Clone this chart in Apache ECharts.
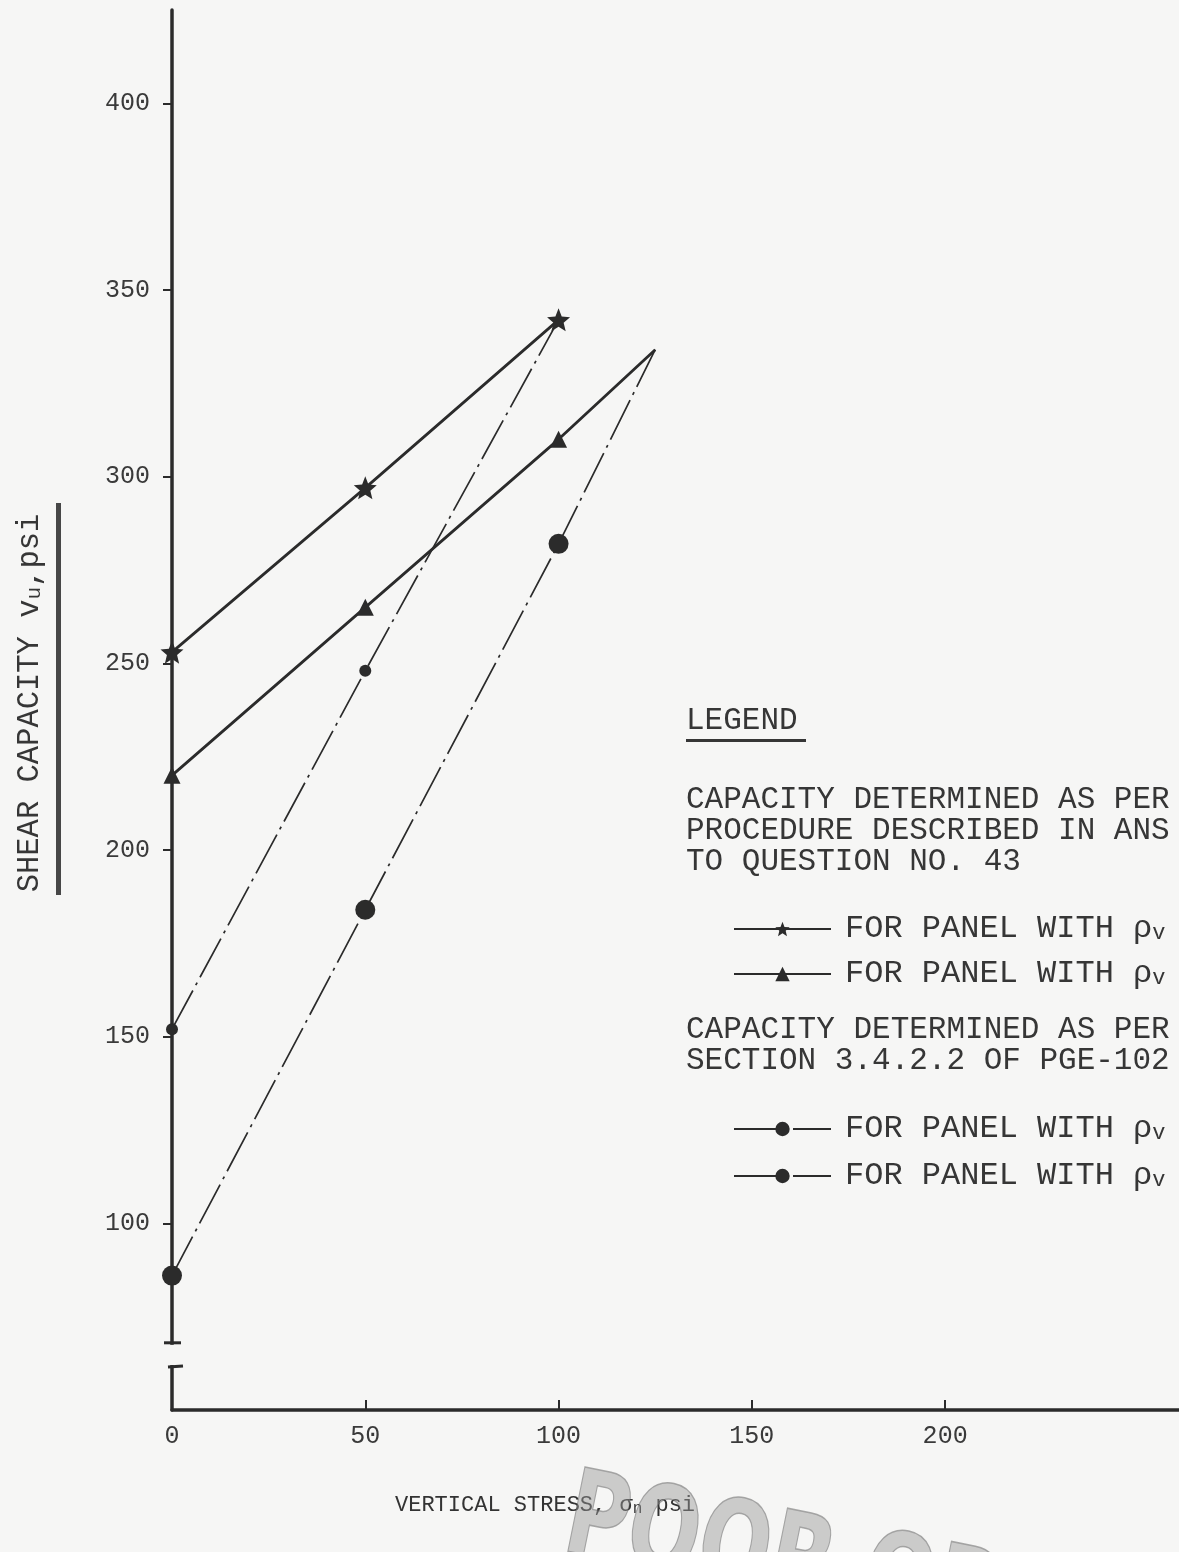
<!DOCTYPE html>
<html>
<head>
<meta charset="utf-8">
<script src="https://cdn.jsdelivr.net/npm/echarts@6/dist/echarts.min.js"></script>
<style>
  html, body { margin: 0; padding: 0; background: #f6f6f5; }
  #chart { width: 1179px; height: 1552px; }
</style>
</head>
<body>
<div id="chart"></div>
<script>
  // vertical stress, psi
  var stressPts = [0, 50, 100, 125]
  // shear capacity v_u, psi
  var vuStar = [253, 297, 342]          // answer to Q.43, first panel
  var vuTriangle = [220, 265, 310, 334] // answer to Q.43, second panel
  var vuDot = [152, 248, 342]           // PGE-1020, first panel
  var vuCircle = [86, 184, 282, 334]    // PGE-1020, second panel
  var xTicks = [0, 50, 100, 150, 200]
  var xTickMarks = [50, 100, 150, 200]
  var yTicks = [100, 150, 200, 250, 300, 350, 400]

  var ink = '#2b2b2b'
  var textInk = '#363636'
  var mono = '"Liberation Mono", "DejaVu Sans Mono", monospace'
  var starPath = 'path://M0,-10 L2.6,-3.6 L9.5,-3.1 L4.2,1.4 L5.9,8.1 L0,4.4 L-5.9,8.1 L-4.2,1.4 L-9.5,-3.1 L-2.6,-3.6 Z'

  function pairs(vals, lastBare) {
    return vals.map(function(v, i) {
      var p = [stressPts[i], v]
      if (lastBare && i === vals.length - 1) {
        return { value: p, symbol: 'none' }
      }
      return p
    })
  }

  var legendRich = {
    t: { fontFamily: mono, fontSize: 32, color: textInk, lineHeight: 30, verticalAlign: 'middle' },
    s: { fontFamily: mono, fontSize: 22, color: textInk, lineHeight: 4, verticalAlign: 'bottom' }
  }
  function legendText() {
    return '{t|FOR PANEL WITH ρ}{s|v}'
  }

  var chart = echarts.init(document.getElementById('chart'))
  chart.setOption({
    backgroundColor: '#f6f6f5',
    animation: false,
    grid: { left: 172, right: 0, top: 10, bottom: 142 },
    xAxis: {
      type: 'value',
      min: 0,
      max: 260.5,
      splitLine: { show: false },
      axisLine: { show: true, onZero: false, lineStyle: { color: ink, width: 3.5 } },
      axisTick: { show: true, inside: true, length: 10, customValues: xTickMarks, lineStyle: { color: ink, width: 2 } },
      axisLabel: { customValues: xTicks, margin: 14, fontFamily: mono, fontSize: 25, color: '#3a3a3a' }
    },
    yAxis: {
      type: 'value',
      min: 50,
      max: 425,
      splitLine: { show: false },
      axisLine: { show: true, onZero: false, lineStyle: { color: ink, width: 3.5 } },
      axisTick: { show: true, length: 9, customValues: yTicks, lineStyle: { color: ink, width: 2 } },
      axisLabel: { customValues: yTicks, margin: 22, fontFamily: mono, fontSize: 25, color: '#3a3a3a' }
    },
    legend: [{
      data: ['starSolid', 'triSolid'],
      orient: 'vertical',
      left: 728,
      top: 908,
      itemWidth: 97,
      itemHeight: 18,
      itemGap: 13,
      selectedMode: false,
      formatter: legendText,
      textStyle: { padding: [0, 0, 0, 9], rich: legendRich }
    }, {
      data: ['dotDash', 'circleDash'],
      orient: 'vertical',
      left: 728,
      top: 1108,
      itemWidth: 97,
      itemHeight: 18,
      itemGap: 15,
      selectedMode: false,
      formatter: legendText,
      textStyle: { padding: [0, 0, 0, 9], rich: legendRich }
    }],
    series: [{
      name: 'starSolid',
      type: 'line',
      data: pairs(vuStar, false),
      symbol: starPath,
      symbolSize: 23,
      z: 5,
      itemStyle: { color: ink },
      lineStyle: { color: ink, width: 2.8 }
    }, {
      name: 'triSolid',
      type: 'line',
      data: pairs(vuTriangle, true),
      symbol: 'triangle',
      symbolSize: 17,
      itemStyle: { color: ink },
      lineStyle: { color: ink, width: 2.8 }
    }, {
      name: 'dotDash',
      type: 'line',
      data: pairs(vuDot, true),
      symbol: 'circle',
      symbolSize: 12,
      itemStyle: { color: ink },
      lineStyle: { color: ink, width: 1.7, type: [44, 6, 3, 6] }
    }, {
      name: 'circleDash',
      type: 'line',
      data: pairs(vuCircle, true),
      symbol: 'circle',
      symbolSize: 20,
      itemStyle: { color: ink },
      lineStyle: { color: ink, width: 1.7, type: [44, 6, 3, 6] }
    }]
  })

  // axis break near the bottom of the y axis
  var brkTop = chart.convertToPixel({ gridIndex: 0 }, [0, 68])
  var brkBot = chart.convertToPixel({ gridIndex: 0 }, [0, 61.5])

  chart.setOption({
    graphic: [
      { type: 'rect', z: 100, shape: { x: brkTop[0] - 6, y: brkTop[1] + 2, width: 12, height: brkBot[1] - brkTop[1] - 4 }, style: { fill: '#f6f6f5' } },
      { type: 'line', z: 101, shape: { x1: brkTop[0] - 8, y1: brkTop[1], x2: brkTop[0] + 9, y2: brkTop[1] }, style: { stroke: ink, lineWidth: 3 } },
      { type: 'line', z: 101, shape: { x1: brkBot[0] - 4, y1: brkBot[1], x2: brkBot[0] + 11, y2: brkBot[1] - 1 }, style: { stroke: ink, lineWidth: 3 } },
      // y axis title with underline bar
      {
        type: 'text', z: 50, x: 30, y: 703, rotation: Math.PI / 2,
        style: {
          text: '{t|SHEAR CAPACITY v}{s|u}{t|,psi}',
          align: 'center', verticalAlign: 'middle',
          rich: {
            t: { fontFamily: mono, fontSize: 30.5, fill: textInk, lineHeight: 30, verticalAlign: 'middle' },
            s: { fontFamily: mono, fontSize: 21, fill: textInk, lineHeight: 5, verticalAlign: 'bottom' }
          }
        }
      },
      { type: 'rect', z: 50, shape: { x: 56, y: 503, width: 5, height: 392 }, style: { fill: '#474747' } },
      // x axis title
      {
        type: 'text', z: 50, x: 395, y: 1505,
        style: {
          text: '{t|VERTICAL STRESS, σ}{s|n}{t| psi}',
          align: 'left', verticalAlign: 'middle',
          rich: {
            t: { fontFamily: mono, fontSize: 22, fill: '#333', lineHeight: 24, verticalAlign: 'middle' },
            s: { fontFamily: mono, fontSize: 16, fill: '#333', lineHeight: 4, verticalAlign: 'bottom' }
          }
        }
      },
      // legend headings
      {
        type: 'text', z: 50, x: 686, y: 721,
        style: { text: 'LEGEND', font: '31px ' + mono, fill: textInk, verticalAlign: 'middle' }
      },
      { type: 'rect', z: 50, shape: { x: 686, y: 739, width: 120, height: 3 }, style: { fill: textInk } },
      {
        type: 'text', z: 50, x: 686, y: 784,
        style: {
          text: 'CAPACITY DETERMINED AS PER\nPROCEDURE DESCRIBED IN ANS\nTO QUESTION NO. 43',
          font: '31px ' + mono, lineHeight: 31, fill: textInk, verticalAlign: 'top'
        }
      },
      {
        type: 'text', z: 50, x: 686, y: 1014,
        style: {
          text: 'CAPACITY DETERMINED AS PER\nSECTION 3.4.2.2 OF PGE-102',
          font: '31px ' + mono, lineHeight: 31, fill: textInk, verticalAlign: 'top'
        }
      },
      // stamp over the bottom edge
      {
        type: 'text', z: 90, x: 578, y: 1462, rotation: -0.2, scaleX: 0.72,
        style: {
          text: 'POOR ORIGINAL',
          font: 'bold 118px "DejaVu Sans"',
          fill: 'rgba(150,150,150,0.45)', stroke: 'rgba(90,90,90,0.5)', lineWidth: 1.5,
          verticalAlign: 'top'
        }
      }
    ]
  })
</script>
</body>
</html>
